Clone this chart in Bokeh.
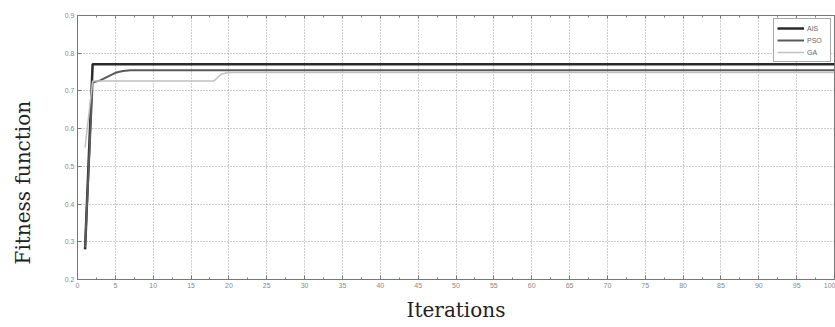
import math
from bokeh.plotting import figure
from bokeh.models import (LinearAxis, SingleIntervalTicker, Range1d, Legend, LegendItem, Title)
from bokeh.embed import file_html
from bokeh.resources import INLINE

# Data (breakpoints of each curve; flat thereafter)
ais_x = [1, 2, 100]
ais_y = [0.28, 0.771, 0.771]
pso_x = [1, 2, 3, 4, 5, 6, 7, 100]
pso_y = [0.285, 0.722, 0.728, 0.738, 0.748, 0.753, 0.755, 0.755]
ga_x = [1, 2, 18, 19, 20, 100]
ga_y = [0.55, 0.726, 0.726, 0.745, 0.749, 0.749]
series_names = ["AIS", "PSO", "GA"]

x_label = "Iterations"
y_label = "Fitness function"

p = figure(width=835, height=327, output_backend="svg", toolbar_location=None,
           x_range=Range1d(0, 100), y_range=Range1d(0.2, 0.9),
           min_border_left=76, min_border_right=1, min_border_top=15, min_border_bottom=48)
p.background_fill_color = "white"
p.border_fill_color = "white"
p.outline_line_color = "#777777"
p.outline_line_width = 1

xt = SingleIntervalTicker(interval=5, num_minor_ticks=2)
yt = SingleIntervalTicker(interval=0.1, num_minor_ticks=0)
p.xaxis.ticker = xt
p.yaxis.ticker = yt

for ax in p.xaxis + p.yaxis:
    ax.major_tick_in = 4
    ax.major_tick_out = 0
    ax.minor_tick_in = 2
    ax.minor_tick_out = 0
    ax.axis_line_color = "#777777"
    ax.major_tick_line_color = "#777777"
    ax.minor_tick_line_color = "#777777"
    ax.major_label_text_font = "Liberation Sans"
    ax.major_label_text_font_size = "7px"
    ax.major_label_text_color = "#888888"
    ax.major_label_standoff = 3

p.xaxis.axis_label = x_label
p.xaxis.axis_label_text_font = "DejaVu Serif"
p.xaxis.axis_label_text_font_style = "normal"
p.xaxis.axis_label_text_font_size = "20px"
p.xaxis.axis_label_text_color = "#222222"
p.xaxis.axis_label_standoff = 7

# blank spacer label on the y axis to push the rotated title outward
p.yaxis.axis_label = " "
p.yaxis.axis_label_text_font_size = "10px"
p.yaxis.axis_label_standoff = 5

top = LinearAxis(ticker=SingleIntervalTicker(interval=5, num_minor_ticks=2),
                 major_label_text_font_size="0px", major_tick_in=3, major_tick_out=0,
                 minor_tick_in=2, minor_tick_out=0, axis_line_color="#777777",
                 major_tick_line_color="#777777", minor_tick_line_color="#777777")
top.major_label_text_color = None
p.add_layout(top, "above")

p.xgrid.ticker = xt
p.ygrid.ticker = yt
for g in (p.xgrid[0], p.ygrid[0]):
    g.grid_line_color = "#999999"
    g.grid_line_dash = "1 2"
    g.grid_line_width = 1

r_ais = p.line(ais_x, ais_y, line_color="#2a2a2a", line_width=2.5)
r_pso = p.line(pso_x, pso_y, line_color="#5a5a5a", line_width=2)
r_ga = p.line(ga_x, ga_y, line_color="#c0c0c0", line_width=1.5)

legend = Legend(items=[LegendItem(label=series_names[0], renderers=[r_ais]),
                       LegendItem(label=series_names[1], renderers=[r_pso]),
                       LegendItem(label=series_names[2], renderers=[r_ga])],
                location="top_right")
legend.label_text_font = "Liberation Sans"
legend.label_text_font_size = "7px"
legend.label_text_color = "#666666"
legend.glyph_width = 27
legend.glyph_height = 12
legend.label_height = 12
legend.spacing = 0
legend.padding = 3
legend.margin = 3
legend.label_standoff = 3
legend.border_line_color = "#555555"
legend.border_line_width = 1
legend.background_fill_alpha = 1
p.add_layout(legend)

ytitle = Title(text=y_label, align="left", offset=15, standoff=16, text_font="DejaVu Serif",
               text_font_size="20px", text_font_style="normal", text_color="#222222")
p.add_layout(ytitle, "left")

open("out.html", "w").write(file_html(p, INLINE))
